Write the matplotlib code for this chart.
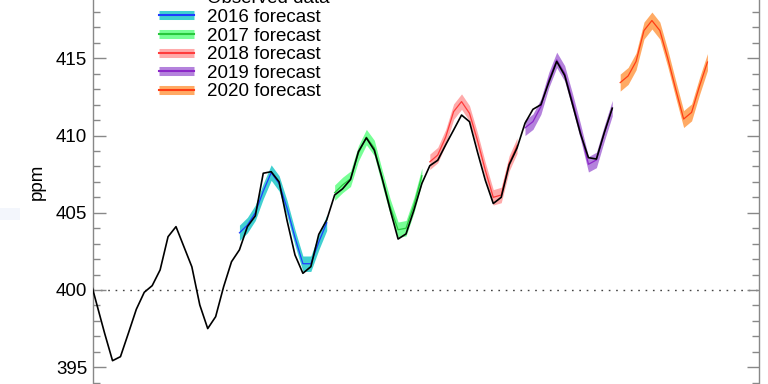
import numpy as np
import matplotlib
matplotlib.use("Agg")
import matplotlib.pyplot as plt
from matplotlib.lines import Line2D
from matplotlib.patches import Rectangle
from matplotlib.ticker import MultipleLocator

plt.rcParams['font.family'] = ['Liberation Sans', 'DejaVu Sans']

# ---------------- data ----------------
# Observed monthly CO2 (ppm), Jun 2014 .. Dec 2019
obs_2014 = [401.0, 399.1, 397.2, 395.42, 395.68, 397.2, 398.75]          # Jun-Dec
obs_2015 = [399.85, 400.28, 401.3, 403.45, 404.1, 402.8, 401.5, 399.03, 397.5, 398.27, 400.2, 401.83]
obs_2016 = [402.6, 404.1, 404.8, 407.56, 407.66, 407.0, 404.5, 402.27, 401.08, 401.51, 403.6, 404.53]
obs_2017 = [406.15, 406.55, 407.15, 408.96, 409.85, 409.05, 407.2, 405.2, 403.3, 403.63, 405.18, 406.9]
obs_2018 = [408.05, 408.4, 409.4, 410.36, 411.33, 410.9, 408.95, 407.1, 405.6, 406.0, 408.1, 409.2]
obs_2019 = [410.8, 411.7, 412.0, 413.45, 414.8, 413.9, 412.0, 410.1, 408.57, 408.48, 410.2, 411.77]

# Forecasts (central values, Jan..Dec) and half-width of uncertainty band
fc_years = [2016, 2017, 2018, 2019, 2020]
fc_2016 = [403.7, 404.2, 405.0, 406.4, 407.6, 406.9, 405.3, 403.4, 401.7, 401.7, 403.1, 404.35]
fc_2017 = [406.3, 406.8, 407.2, 408.85, 409.9, 409.2, 407.25, 405.4, 403.9, 404.0, 405.5, 407.4]
fc_2018 = [408.3, 408.74, 409.9, 411.55, 412.2, 411.44, 409.7, 407.75, 406.0, 406.15, 408.2, 409.35]
fc_2019 = [410.5, 410.9, 411.87, 413.6, 414.9, 414.03, 412.2, 410.25, 408.14, 408.42, 410.15, 411.77]
fc_2020 = [413.43, 413.86, 414.8, 416.8, 417.45, 416.8, 415.0, 413.0, 411.07, 411.5, 413.2, 414.76]
fc_values = [fc_2016, fc_2017, fc_2018, fc_2019, fc_2020]
fc_halfwidth = [0.5, 0.5, 0.5, 0.5, 0.55]

labels = ["Observed data", "2016 forecast", "2017 forecast", "2018 forecast",
          "2019 forecast", "2020 forecast"]
band_colors = ["#40d0d0", "#78ff96", "#ffaaaa", "#b482dc", "#ffaa64"]
line_colors = ["#1e3cff", "#28c83c", "#ff3c3c", "#8c28c8", "#ff3c14"]

# ---------------- figure ----------------
fig = plt.figure(figsize=(7.68, 3.84), dpi=100)
x0, x1 = 92.7 / 768, 759.0 / 768
ax = fig.add_axes([x0, 0.0, x1 - x0, 1.0])

obs = obs_2014 + obs_2015 + obs_2016 + obs_2017 + obs_2018 + obs_2019
obs_x = 2014 + (np.arange(len(obs)) + 5 + 0.5) / 12.0

ax.axhline(400, color="#444444", lw=1.0, linestyle=(0, (1.2, 4.1)), zorder=1)

for yr, vals, hw, bc, lc in zip(fc_years, fc_values, fc_halfwidth, band_colors, line_colors):
    xx = yr + (np.arange(12) + 0.5) / 12.0
    v = np.array(vals)
    ax.fill_between(xx, v - hw, v + hw, color=bc, lw=0, zorder=2)
    ax.plot(xx, v, color=lc, lw=0.9, zorder=3)

ax.plot(obs_x, obs, color="black", lw=1.2, zorder=4)

ax.set_xlim(2014.5, 2021.5)
ax.set_ylim(393.91, 418.78)

for s in ("top", "bottom"):
    ax.spines[s].set_visible(False)
for s in ("left", "right"):
    ax.spines[s].set_color("#888888")
    ax.spines[s].set_linewidth(1.0)

ax.yaxis.set_major_locator(MultipleLocator(5))
ax.yaxis.set_minor_locator(MultipleLocator(1))
ax.tick_params(axis="y", which="both", direction="in", left=True, right=True,
               colors="#888888", labelcolor="black", labelsize=13.5, pad=4)
ax.tick_params(axis="y", which="major", length=9, width=1.0)
ax.tick_params(axis="y", which="minor", length=4.8, width=1.0)
ax.tick_params(axis="x", which="both", bottom=False, labelbottom=False)

fig.text(37 / 768, 1 - 182 / 384, "ppm", rotation=90, ha="center", va="center",
         fontsize=13.5)

# faint patch at left edge
fig.patches.append(Rectangle((0, 1 - 220 / 384), 20 / 768, 12 / 384,
                             transform=fig.transFigure, color="#f3f6fc", lw=0))

handles = [Line2D([], [], color="black", lw=1.2)]
for bc, lc in zip(band_colors, line_colors):
    handles.append((Line2D([], [], color=bc, lw=6.5, solid_capstyle="butt"),
                    Line2D([], [], color=lc, lw=1.5)))

leg = ax.legend(handles, labels, loc="lower left",
                bbox_to_anchor=(159 / 768, 1 - 100.5 / 384),
                bbox_transform=fig.transFigure, frameon=False,
                fontsize=13.5, handlelength=1.85, handletextpad=0.7,
                labelspacing=0.08, borderpad=0, borderaxespad=0)

fig.savefig("out.png", dpi=100)
